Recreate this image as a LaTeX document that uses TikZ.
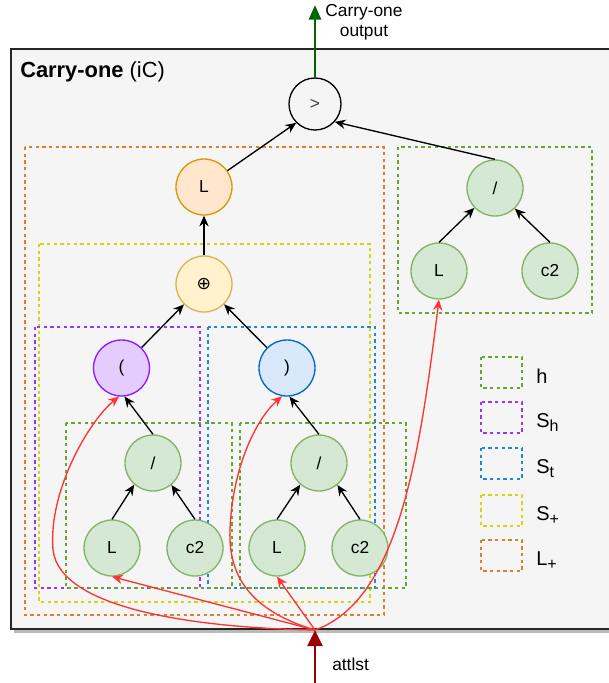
\documentclass[tikz,border=0pt]{standalone}
\usepackage{fontspec}
\setmainfont{Liberation Sans}
\newfontfamily\symf{DejaVu Sans}
\usetikzlibrary{arrows.meta}
\definecolor{bgc}{HTML}{F5F5F5}
\definecolor{gfill}{HTML}{D5E8D4}
\definecolor{gline}{HTML}{82B366}
\definecolor{ofill}{HTML}{FFE6CC}
\definecolor{oline}{HTML}{D79B00}
\definecolor{yfill}{HTML}{FFF2CC}
\definecolor{yline}{HTML}{D6B656}
\definecolor{pfill}{HTML}{E5CCFF}
\definecolor{pline}{HTML}{8C1AFF}
\definecolor{bfill}{HTML}{DAE8FC}
\definecolor{bline}{HTML}{0066CC}
\definecolor{dorange}{HTML}{D97F2E}
\definecolor{dyellow}{HTML}{D4D40F}
\definecolor{dpurple}{HTML}{9933FF}
\definecolor{dblue}{HTML}{1C86E0}
\definecolor{dgreen}{HTML}{66A630}
\definecolor{redl}{HTML}{FF3333}
\definecolor{darkr}{HTML}{990000}
\definecolor{outg}{HTML}{006600}
\newcommand\mysub[1]{\raisebox{-0.45ex}{\fontsize{12}{12}\selectfont #1}}
\tikzset{
  nodetxt/.style={font=\fontsize{13}{15}\selectfont},
  circ/.style={circle, minimum size=42pt, inner sep=0pt, line width=1pt, nodetxt},
  gnode/.style={circ, fill=gfill, draw=gline},
  dbox/.style={line width=1pt, dash pattern=on 2.6pt off 2.4pt},
  edge/.style={line width=1pt, -{Stealth[length=8pt,width=7pt]}},
  redarr/.style={line width=1pt, redl, -{Stealth[length=8pt,width=7pt]}},
  legtxt/.style={anchor=base west, font=\fontsize{15}{18}\selectfont, inner sep=0pt},
}
\begin{document}
\begin{tikzpicture}[x=0.75pt, y=-0.75pt]
\useasboundingbox (0,0) rectangle (608,683);
% container
\fill[gray!55] (14,52) rectangle (615,633);
\draw[fill=bgc, line width=1.2pt, draw=black!85] (11,49) rectangle (612,629);
\node[anchor=west, inner sep=0pt, font=\fontsize{16.4}{18}\selectfont] (title) at (20,72) {\textbf{Carry-one} (iC)};
% dashed group boxes
\draw[dbox, dorange] (25,147) rectangle (384,615);
\draw[dbox, dyellow] (39,244) rectangle (370,602);
\draw[dbox, dpurple] (35,327) rectangle (200,588);
\draw[dbox, dblue] (208,327) rectangle (375,588);
\draw[dbox, dgreen] (66,423) rectangle (232,588);
\draw[dbox, dgreen] (240,423) rectangle (406,588);
\draw[dbox, dgreen] (398,147) rectangle (592,313);
% legend
\draw[dbox, dgreen] (481,357) rectangle (522,388);
\draw[dbox, dpurple] (481,402) rectangle (522,433);
\draw[dbox, dblue] (481,448) rectangle (522,479);
\draw[dbox, dyellow] (481,495) rectangle (522,526);
\draw[dbox, dorange] (481,540) rectangle (522,571);
\node[legtxt] (lg1) at (536,383) {h};
\node[legtxt] (lg2) at (536,427) {S\mysub{h}};
\node[legtxt] (lg3) at (536,473) {S\mysub{t}};
\node[legtxt] (lg4) at (536,520) {S\mysub{+}};
\node[legtxt] (lg5) at (536,565) {L\mysub{+}};
% nodes
\node[circ, minimum size=39pt, fill=bgc, draw=black, text=black!75] (gt) at (315,104) {>};
\node[circ, fill=ofill, draw=oline] (oL) at (204,187) {L};
\node[circ, fill=yfill, draw=yline] (oplus) at (204,284) {\symf ⊕};
\node[circ, fill=pfill, draw=pline] (lpar) at (121.5,368) {(};
\node[circ, fill=bfill, draw=bline] (rpar) at (287,368) {)};
\node[gnode] (ldiv) at (153,463) {/};
\node[gnode] (lL) at (112,548) {L};
\node[gnode] (lc2) at (195,548) {c2};
\node[gnode] (mdiv) at (319,463) {/};
\node[gnode] (mL) at (277,548) {L};
\node[gnode] (mc2) at (360,548) {c2};
\node[gnode] (rdiv) at (495,188) {/};
\node[gnode] (rL) at (439,271) {L};
\node[gnode] (rc2) at (550,271) {c2};
% black edges
\draw[edge] (oL) -- (gt.-135);
\draw[edge] (rdiv.north) -- (gt.-42);
\draw[edge] (oplus) -- (oL);
\draw[edge] (lpar) -- (oplus);
\draw[edge] (rpar) -- (oplus);
\draw[edge] (ldiv.north) -- (lpar.-84);
\draw[edge] (mdiv.north) -- (rpar.-85);
\draw[edge] (lL.north) -- (ldiv.-131);
\draw[edge] (lc2.north) -- (ldiv.-50);
\draw[edge] (mL.north) -- (mdiv.-131);
\draw[edge] (mc2.north) -- (mdiv.-50);
\draw[edge] (rL.north) -- (rdiv.-136);
\draw[edge] (rc2.north) -- (rdiv.-46);
% output arrow
\coordinate (T) at (315,5);
\draw[line width=2.2pt, outg, -{Stealth[length=11pt,width=9pt,inset=0pt]}] (gt.north) -- (T);
\node[align=center, inner sep=0pt, font=\fontsize{13}{15}\selectfont] (outlbl) at (364,22) {Carry-one\\output};
% input arrows
\coordinate (O) at (315,630);
\coordinate (B) at (315,683);
\draw[line width=2.2pt, darkr, -{Stealth[length=12pt,width=11pt,inset=0pt]}] (B) -- (O);
\node[anchor=west, inner sep=0pt, font=\fontsize{13}{15}\selectfont] (attl) at (332,664) {attlst};
\draw[redarr] (O) -- (lL.south);
\draw[redarr] (O) -- (mL.south);
\draw[redarr] (O) .. controls (200,628) and (60,610) .. (53,550) .. controls (48,490) and (90,420) .. (lpar.265);
\draw[redarr] (O) .. controls (255,612) and (228,580) .. (230,530) .. controls (232,470) and (255,420) .. (rpar.260);
\draw[redarr] (O) .. controls (400,600) and (420,450) .. (rL.south);
\end{tikzpicture}
\end{document}
